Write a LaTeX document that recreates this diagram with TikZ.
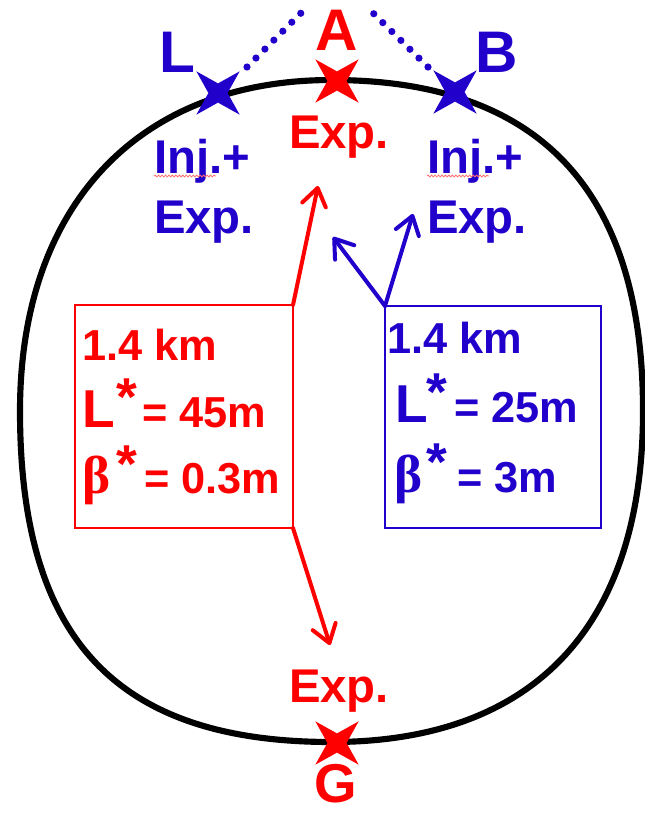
\documentclass[tikz,border=0pt]{standalone}
\usepackage{fontspec}
\setmainfont{Liberation Sans}
\newfontfamily\greekserif{Liberation Serif}
\usetikzlibrary{arrows.meta,shapes.geometric,decorations.pathmorphing}
\definecolor{myred}{RGB}{255,0,0}
\definecolor{myblue}{RGB}{34,0,204}
\definecolor{spellred}{RGB}{255,110,110}
\newcommand\fsz[1]{\fontsize{#1}{#1}\selectfont}
\begin{document}
\begin{tikzpicture}[x=0.75pt,y=-0.75pt,
  lbl/.style={inner sep=0pt, outer sep=0pt},
  bigletter/.style={lbl, anchor=base, font=\bfseries\fsz{44pt}},
  midtext/.style={lbl, anchor=base west, font=\bfseries\fsz{35.5pt}},
  boxtext/.style={lbl, anchor=base west, font=\bfseries\fsz{32.5pt}},
  bigsym/.style={lbl, anchor=base west, font=\bfseries\fsz{40pt}},
  xstar/.style={star, star points=4, star point ratio=3.2, minimum size=46pt,
    inner sep=0pt, outer sep=0pt, fill=#1, draw=none, shape border rotate=45},
  infobox/.style={draw=#1, line width=2.2pt, inner sep=0pt, outer sep=0pt, fill=none},
  arr/.style={line width=3pt, line cap=round,
    -{Straight Barb[length=13pt,width=18pt,line width=3pt,round]}},
  dotline/.style={myblue, line width=5.4pt, line cap=round, dash pattern=on 0pt off 9.5pt},
  spell/.style={spellred, line width=0.6pt, decorate,
    decoration={snake, amplitude=0.7pt, segment length=2.6pt}}
]
\useasboundingbox (0,0) rectangle (644,814);
\fill[white] (0,0) rectangle (644,814);

% ring
\draw[line width=4.6pt, black]
  (331.5,80) .. controls (538.2,80) and (643,189.2) .. (643,411)
  .. controls (643,626.2) and (534.0,742) .. (331.5,742)
  .. controls (113.4,742) and (20,636.1) .. (20,411)
  .. controls (20,205.8) and (138.4,80) .. cycle;

% dotted lines
\coordinate (dL1) at (247,67);
\coordinate (dL2) at (301,13);
\coordinate (dR1) at (373,13);
\coordinate (dR2) at (428,67);
\draw[dotline] (dL1) -- (dL2);
\draw[dotline] (dR2) -- (dR1);

% stars
\node[xstar=myblue] (sL) at (218,93) {};
\node[xstar=myred]  (sA) at (337,81) {};
\node[xstar=myblue] (sB) at (455,92) {};
\node[xstar=myred]  (sG) at (337,743) {};

% big letters
\node[bigletter, text=myblue] (L) at (177,72) {L};
\node[bigletter, text=myred]  (A) at (337,50) {A};
\node[bigletter, text=myblue] (B) at (497,72) {B};
\node[bigletter, text=myred, font=\bfseries\fsz{41pt}] (G) at (336,802) {G};

% labels near ring
\node[midtext, text=myred] (expA) at (289,148) {Exp.};
\node[midtext, text=myblue] (injL) at (154,173) {Inj.+};
\node[midtext, text=myblue] (expL) at (154,233) {Exp.};
\node[midtext, text=myblue] (injB) at (427,173) {Inj.+};
\node[midtext, text=myblue] (expB) at (427,233) {Exp.};
\node[midtext, text=myred] (expG) at (289,702) {Exp.};

% spell-check underlines
\coordinate (uL1) at (154,176);
\coordinate (uL2) at (216,176);
\coordinate (uB1) at (427,176);
\coordinate (uB2) at (489,176);
\draw[spell] (uL1) -- (uL2);
\draw[spell] (uB1) -- (uB2);

% boxes
\node[infobox=myred, minimum width=163.5pt, minimum height=167.25pt] (rbox) at (184,416.5) {};
\node[infobox=myblue, minimum width=162pt, minimum height=166.5pt] (bbox) at (493,417) {};

% red box text
\node[boxtext, text=myred] (r1) at (82,360) {1.4 km};
\node[bigsym, text=myred] (r2L) at (82,427) {L};
\node[bigsym, text=myred] (r2s) at (116,415) {*};
\node[boxtext, text=myred] (r2v) at (142,427) {= 45m};
\node[bigsym, text=myred, font=\greekserif\bfseries\fsz{40pt}] (r3b) at (82,493) {β};
\node[bigsym, text=myred] (r3s) at (116,482) {*};
\node[boxtext, text=myred] (r3v) at (144,493) {= 0.3m};

% blue box text
\node[boxtext, text=myblue] (b1) at (387,353) {1.4 km};
\node[bigsym, text=myblue] (b2L) at (395,422) {L};
\node[bigsym, text=myblue] (b2s) at (426,410) {*};
\node[boxtext, text=myblue] (b2v) at (454,422) {= 25m};
\node[bigsym, text=myblue, font=\greekserif\bfseries\fsz{40pt}] (b3b) at (394,492) {β};
\node[bigsym, text=myblue] (b3s) at (426,480) {*};
\node[boxtext, text=myblue] (b3v) at (457,492) {= 3m};

% arrows
\coordinate (tUp) at (318,186);
\coordinate (tDown) at (330,645);
\coordinate (tB1) at (333,237);
\coordinate (tB2) at (413,214);
\draw[arr, myred] (rbox.north east) -- (tUp);
\draw[arr, myred] (rbox.south east) -- (tDown);
\draw[arr, myblue] (bbox.north west) -- (tB1);
\draw[arr, myblue] (bbox.north west) -- (tB2);
\end{tikzpicture}
\end{document}
